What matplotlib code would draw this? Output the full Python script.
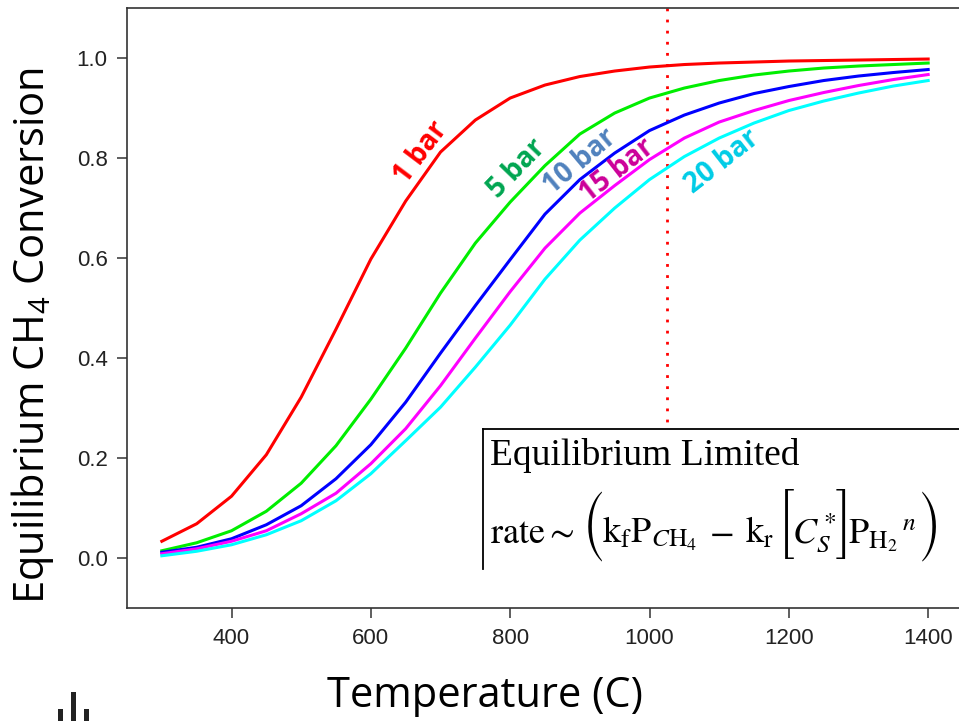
import matplotlib
matplotlib.use('Agg')
import matplotlib.pyplot as plt
from matplotlib.patches import Rectangle

temps = [300, 350, 400, 450, 500, 550, 600, 650, 700, 750, 800, 850,
         900, 950, 1000, 1050, 1100, 1150, 1200, 1250, 1300, 1350, 1400]

conv_1bar = [0.034, 0.069, 0.124, 0.207, 0.322, 0.458, 0.598, 0.714, 0.812, 0.876, 0.920, 0.946,
             0.963, 0.974, 0.982, 0.987, 0.990, 0.992, 0.994, 0.995, 0.996, 0.997, 0.998]
conv_5bar = [0.015, 0.031, 0.055, 0.094, 0.150, 0.225, 0.318, 0.420, 0.530, 0.630, 0.712, 0.785,
             0.848, 0.890, 0.920, 0.940, 0.955, 0.966, 0.974, 0.980, 0.984, 0.987, 0.990]
conv_10bar = [0.012, 0.022, 0.039, 0.067, 0.105, 0.159, 0.227, 0.312, 0.410, 0.505, 0.597, 0.688,
              0.757, 0.810, 0.855, 0.886, 0.910, 0.929, 0.943, 0.955, 0.964, 0.971, 0.977]
conv_15bar = [0.009, 0.019, 0.034, 0.055, 0.089, 0.130, 0.189, 0.259, 0.345, 0.440, 0.533, 0.620,
              0.690, 0.745, 0.797, 0.840, 0.872, 0.895, 0.915, 0.931, 0.945, 0.957, 0.967]
conv_20bar = [0.005, 0.014, 0.027, 0.047, 0.075, 0.115, 0.169, 0.235, 0.302, 0.382, 0.466, 0.558,
              0.636, 0.700, 0.757, 0.803, 0.840, 0.870, 0.895, 0.914, 0.930, 0.944, 0.955]

series = [conv_1bar, conv_5bar, conv_10bar, conv_15bar, conv_20bar]
line_colors = ['#ff0000', '#00ee00', '#0000ff', '#ff00ff', '#00ffff']

labels = ['1 bar', '5 bar', '10 bar', '15 bar', '20 bar']
label_colors = ['#ff0000', '#00a550', '#4f81bd', '#cc0099', '#00cce6']
label_x = [672, 809, 900, 953, 1104]
label_y = [0.810, 0.779, 0.792, 0.775, 0.792]
label_rot = [53, 46, 40, 38, 38]

limit_temp = 1025

plt.rcParams['mathtext.fontset'] = 'custom'
plt.rcParams['mathtext.rm'] = 'Open Sans'
plt.rcParams['mathtext.it'] = 'Open Sans:italic'

fig = plt.figure(figsize=(9.59, 7.21), dpi=100)
W, H = 959.0, 721.0
ax = fig.add_axes([127 / W, (H - 608.3) / H, (963 - 127) / W, (608.3 - 8) / H])

for vals, c in zip(series, line_colors):
    ax.plot(temps, vals, color=c, lw=2.2, solid_joinstyle='round', zorder=3)

for t, x, y, r, c in zip(labels, label_x, label_y, label_rot, label_colors):
    ax.text(x, y, t, color=c, rotation=r, ha='center', va='center',
            fontsize=20, fontweight='bold', family='Open Sans', zorder=4)

ax.plot([limit_temp, limit_temp], [1.1, 0.26], color='#ff0000', lw=2,
        dashes=(1, 3), zorder=2)

ax.set_xlim(250, 1450)
ax.set_ylim(-0.1, 1.1)
ax.set_xticks([400, 600, 800, 1000, 1200, 1400])
ax.set_yticks([0.0, 0.2, 0.4, 0.6, 0.8, 1.0])
ax.set_yticklabels(['0.0', '0.2', '0.4', '0.6', '0.8', '1.0'])
ax.tick_params(labelsize=16, length=7, width=1.1, pad=7, colors='#333333',
               labelcolor='#222222')
for tl in ax.get_xticklabels() + ax.get_yticklabels():
    tl.set_family('Liberation Sans')
for s in ax.spines.values():
    s.set_color('#333333')
    s.set_linewidth(1.2)

# equation box
box = Rectangle((482.7 / W, (H - 569.3) / H), 1.0, (569.3 - 429) / H,
                transform=fig.transFigure, facecolor='white', edgecolor='none', zorder=5)
fig.add_artist(box)
fig.add_artist(plt.Line2D([482.7 / W, 1.0], [(H - 429) / H] * 2, color='black', lw=1.3,
                          transform=fig.transFigure, zorder=6))
fig.add_artist(plt.Line2D([482.7 / W] * 2, [(H - 429) / H, (H - 569.3) / H], color='black',
                          lw=1.3, transform=fig.transFigure, zorder=6))
fig.text(490 / W, (H - 465) / H, 'Equilibrium Limited', family='Liberation Serif',
         fontsize=27, va='baseline', ha='left', zorder=7)

# formula line, built piece by piece so the delimiters can be tall
# (text, font family or None for stix mathtext, gap before, drop below baseline)
renderer = fig.canvas.get_renderer()
pieces = [
    (r'$\mathrm{rate} \sim$', None, 0, 0),
    ('(', 'STIXSizeTwoSym', 8, 8),
    (r'$\mathrm{k_f P}_{\mathit{C}\mathrm{H}_4}$', None, -3, 0),
    (r'$-$', None, 12, 0),
    (r'$\mathrm{k_r}$', None, 12, 0),
    ('[', 'STIXSizeTwoSym', 4, 5),
    (r'$C_S^*$', None, -4, 0),
    (']', 'STIXSizeTwoSym', -2, 5),
    (r'$\mathrm{P_{H_2}}^{\,n}$', None, -3, 0),
    (')', 'STIXSizeTwoSym', 0, 8),
]
xpos = 490.0
for s, fam, gap, drop in pieces:
    xpos += gap
    ypos = (H - 543 - drop) / H
    if fam is None:
        t = fig.text(xpos / W, ypos, s, math_fontfamily='stix', fontsize=26,
                     va='baseline', ha='left', zorder=7)
    else:
        t = fig.text(xpos / W, ypos, s, family=fam, fontsize=27,
                     va='baseline', ha='left', zorder=7)
    xpos = t.get_window_extent(renderer).x1

fig.text(33 / W, (H - 336) / H, 'Equilibrium CH$_4$ Conversion', rotation=90,
         family='Open Sans', fontsize=30, ha='center', va='center')
fig.text(485 / W, (H - 696) / H, 'Temperature (C)', family='Open Sans', fontsize=30,
         ha='center', va='center')

# small bar icon in the corner
for bx, btop in [(58, 709), (71, 692), (84, 709)]:
    fig.add_artist(Rectangle((bx / W, 0), 5 / W, (H - btop) / H, transform=fig.transFigure,
                             facecolor='#222222', edgecolor='none'))

fig.savefig('out.png', dpi=100)
